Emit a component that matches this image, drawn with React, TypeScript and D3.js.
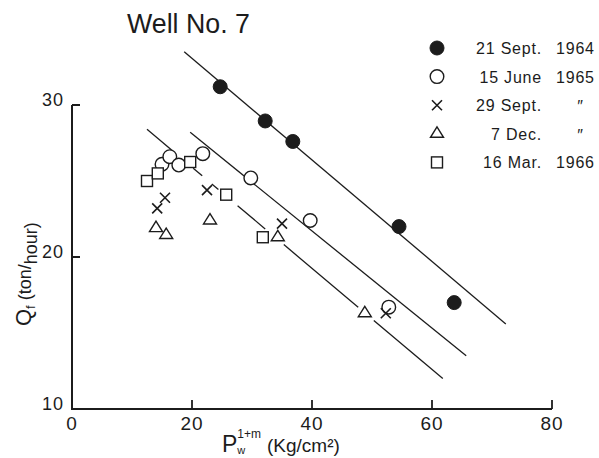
import React from "react";
import * as d3 from "d3";

const W = 599;
const H = 458;

const xTicks = [0, 20, 40, 60, 80];
const yTicks = [10, 20, 30];

// [P_w^(1+m), Q_f]
const sept1964 = [[24.7, 31.2], [32.2, 28.95], [36.8, 27.6], [54.5, 22.0], [63.7, 17.0]];
const june1965 = [[15.0, 26.1], [16.3, 26.6], [17.8, 26.05], [21.8, 26.8], [29.8, 25.2], [39.7, 22.4], [52.8, 16.7]];
const sept1965 = [[15.5, 23.9], [14.2, 23.2], [22.5, 24.4], [35.0, 22.2], [52.3, 16.3]];
const dec1965 = [[14.0, 21.9], [15.7, 21.45], [23.0, 22.4], [34.3, 21.3], [48.8, 16.3]];
const mar1966 = [[12.5, 25.0], [14.3, 25.5], [19.7, 26.25], [25.7, 24.1], [31.8, 21.3]];

// fitted lines [start, end] in data units
const line1 = [[18.7, 33.5], [72.3, 15.6]];
const line2 = [[19.7, 28.2], [65.7, 13.5]];
const line3 = [[12.5, 28.4], [61.8, 12.0]];
const line3Gaps = [[16.6, 20.2], [21.7, 23.3], [24.4, 27.6], [32.2, 35.3], [47.7, 50.3]];

const legendDates = ["21 Sept.", "15 June", "29 Sept.", "7 Dec.", "16 Mar."];
const legendYears = ["1964", "1965", "〃", "〃", "1966"];
const legendSymbols = ["filled", "open", "cross", "triangle", "square"];

const INK = "#1c1c1c";
const FONT = "'Liberation Sans', 'DejaVu Sans', sans-serif";

function Marker({ kind, cx, cy }: { kind: string; cx: number; cy: number }) {
  const sw = 1.4;
  if (kind === "filled") return <circle cx={cx} cy={cy} r={7} fill={INK} stroke={INK} strokeWidth={1} />;
  if (kind === "open") return <circle cx={cx} cy={cy} r={6.8} fill="white" stroke={INK} strokeWidth={sw} />;
  if (kind === "square")
    return <rect x={cx - 5.5} y={cy - 5.5} width={11} height={11} fill="white" stroke={INK} strokeWidth={sw} />;
  if (kind === "triangle") {
    const s = 13, h = s * 0.8;
    const p = `M${cx},${cy - (2 * h) / 3} L${cx + s / 2},${cy + h / 3} L${cx - s / 2},${cy + h / 3} Z`;
    return <path d={p} fill="white" stroke={INK} strokeWidth={sw} strokeLinejoin="miter" />;
  }
  const d = 5;
  return (
    <path d={`M${cx - d},${cy - d} L${cx + d},${cy + d} M${cx + d},${cy - d} L${cx - d},${cy + d}`} stroke={INK} strokeWidth={1.6} fill="none" />
  );
}

export default function App() {
  const x = d3.scaleLinear().domain([0, 80]).range([72, 552]);
  const y = d3.scaleLinear().domain([10, 30]).range([409, 105]);
  const lineGen = d3.line<number[]>().x((d) => x(d[0])).y((d) => y(d[1]));

  const [a, b] = line3;
  const slope = (b[1] - a[1]) / (b[0] - a[0]);
  const at = (xv: number) => [xv, a[1] + slope * (xv - a[0])];
  const segs: number[][][] = [];
  let start = a[0];
  line3Gaps.forEach((g) => {
    segs.push([at(start), at(g[0])]);
    start = g[1];
  });
  segs.push([at(start), at(b[0])]);

  const series: [string, number[][]][] = [
    ["filled", sept1964],
    ["open", june1965],
    ["cross", sept1965],
    ["triangle", dec1965],
    ["square", mar1966],
  ];

  const x0 = x(0), y0 = y(10), yTop = y(30);

  return (
    <svg width={W} height={H} style={{ position: "absolute", left: 0, top: 0, background: "white" }}>
      <rect width={W} height={H} fill="white" />
      <text x={127} y={33} fontFamily={FONT} fontSize={28} fill={INK} textLength={123} lengthAdjust="spacingAndGlyphs">
        Well No. 7
      </text>

      <path d={`M${x0},${yTop} V${y0} H${x(80)}`} stroke={INK} strokeWidth={2} fill="none" />
      {yTicks.filter((t) => t > 10).map((t) => (
        <line key={t} x1={x0} x2={x0 + 8} y1={y(t)} y2={y(t)} stroke={INK} strokeWidth={2} />
      ))}
      {xTicks.filter((t) => t > 0).map((t) => (
        <line key={t} x1={x(t)} x2={x(t)} y1={y0} y2={y0 - 9} stroke={INK} strokeWidth={1.8} />
      ))}
      {yTicks.map((t) => (
        <text key={t} x={x0 - 8} y={y(t) + 1} textAnchor="end" fontFamily={FONT} fontSize={18} letterSpacing={1} fill={INK}>
          {t}
        </text>
      ))}
      {xTicks.map((t) => (
        <text key={t} x={x(t)} y={430} textAnchor="middle" fontFamily={FONT} fontSize={19} letterSpacing={1} fill={INK}>
          {t}
        </text>
      ))}

      <text transform="translate(31,326) rotate(-90)" fontFamily={FONT} fill={INK} fontSize={18}>
        <tspan fontSize={22}>Q</tspan>
        <tspan fontSize={13} dy={4}>f</tspan>
        <tspan fontSize={18} dy={-4}> (ton/</tspan>
        <tspan fontSize={18} dy={6}>hour)</tspan>
      </text>
      <text x={222} y={452} fontFamily={FONT} fill={INK} fontSize={23}>
        P
        <tspan fontSize={11} dx={0} dy={2}>w</tspan>
        <tspan fontSize={12} dx={-8} dy={-16}>1+m</tspan>
        <tspan fontSize={19} dx={6} dy={14}>(Kg/cm²)</tspan>
      </text>

      <path d={lineGen(line1) || ""} stroke={INK} strokeWidth={1.3} fill="none" />
      <path d={lineGen(line2) || ""} stroke={INK} strokeWidth={1.3} fill="none" />
      {segs.map((s, i) => (
        <path key={i} d={lineGen(s) || ""} stroke={INK} strokeWidth={1.3} fill="none" />
      ))}

      {series.map(([kind, pts]) =>
        pts.map((p, i) => <Marker key={kind + i} kind={kind} cx={x(p[0])} cy={y(p[1])} />)
      )}

      {legendSymbols.map((k, i) => {
        const ly = 48 + i * 28.6;
        const yr = legendYears[i];
        return (
          <g key={k}>
            <Marker kind={k} cx={437} cy={ly} />
            <text x={542} y={ly + 6} textAnchor="end" fontFamily={FONT} fontSize={16} letterSpacing={0.8} fill={INK}>
              {legendDates[i]}
            </text>
            {yr === "〃" ? (
              <text x={580} y={ly + 7} textAnchor="middle" fontFamily={FONT} fontSize={16} fill={INK}>
                {"\u2033"}
              </text>
            ) : (
              <text x={556} y={ly + 6} fontFamily={FONT} fontSize={16} letterSpacing={0.8} fill={INK}>
                {yr}
              </text>
            )}
          </g>
        );
      })}
    </svg>
  );
}
